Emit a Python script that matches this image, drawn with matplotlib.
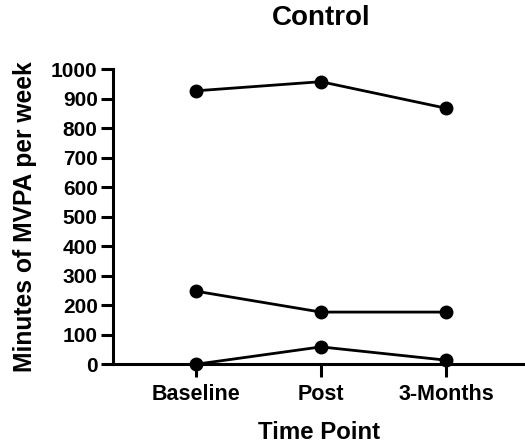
import matplotlib
matplotlib.use('Agg')
import matplotlib.pyplot as plt

# time points and the three subjects' MVPA minutes
time_points = ['Baseline', 'Post', '3-Months']
subject_1 = [927, 958, 868]
subject_2 = [248, 177, 177]
subject_3 = [0, 59, 14]
y_ticks = list(range(0, 1001, 100))

plt.rcParams['font.family'] = ['Liberation Sans', 'DejaVu Sans']
plt.rcParams['font.weight'] = 'bold'

fig = plt.figure(figsize=(5.25, 4.48), dpi=100)
ax = fig.add_axes([113/525, (448-364.3)/448, 1 - 113/525, (364.3-69.3)/448])

x = list(range(len(time_points)))
for series in [subject_1, subject_2, subject_3]:
    ax.plot(x, series, color='black', lw=2, marker='o', ms=9, clip_on=False, zorder=3)

ax.set_xlim(-0.66, 2.63)
ax.set_ylim(0, 1000)
ax.set_xticks(x)
ax.set_xticklabels(time_points, fontsize=15.5, fontweight='bold')
ax.set_yticks(y_ticks)
ax.set_yticklabels([str(v) for v in y_ticks], fontsize=15, fontweight='bold')

for side in ['top', 'right']:
    ax.spines[side].set_visible(False)
for side in ['left', 'bottom']:
    ax.spines[side].set_linewidth(2.2)
ax.tick_params(width=2.2, length=9, pad=2, colors='black')
ax.tick_params(axis='x', pad=5.5)

ax.set_xlabel('Time Point', fontsize=17.3, fontweight='bold', labelpad=11)
ax.set_ylabel('Minutes of MVPA per week', fontsize=17.7, fontweight='bold', labelpad=10)
fig.text(321/525, 1 - 18/448, 'Control', ha='center', va='center', fontsize=20, fontweight='bold')

fig.savefig('out.png', dpi=100)
